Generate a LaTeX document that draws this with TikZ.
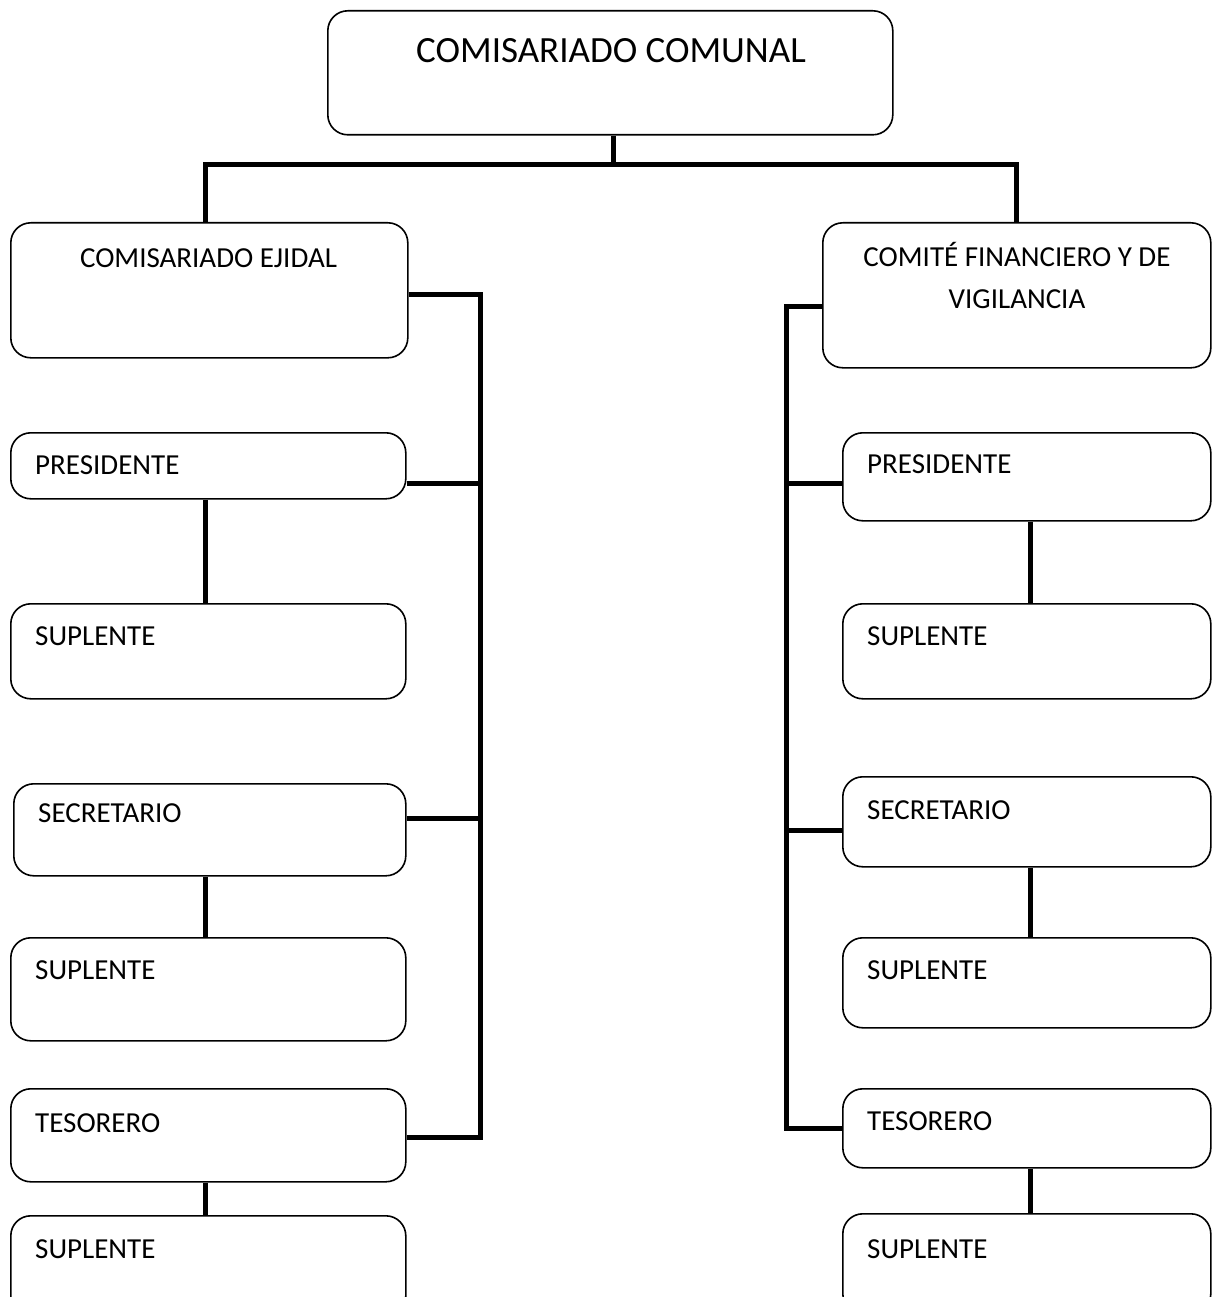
\documentclass[tikz,border=0pt]{standalone}
\usepackage{fontspec}
\setmainfont{Carlito}
\begin{document}
\begin{tikzpicture}[x=1pt,y=-1pt,
  box/.style={draw, line width=1.6pt, rounded corners=20pt, anchor=north west, inner sep=0pt},
  lbl/.style={anchor=base west, inner sep=0pt, font=\fontsize{29}{35}\selectfont},
  clbl/.style={anchor=base, inner sep=0pt, font=\fontsize{29}{35}\selectfont},
  conn/.style={line width=5pt}]
\useasboundingbox (0,0) rectangle (1211,1297);
% boxes
\node[box, minimum width=565pt, minimum height=124pt] (top) at (327,10) {};
\node[box, minimum width=397pt, minimum height=135pt] (ej) at (10,222) {};
\node[box, minimum width=388pt, minimum height=145pt] (cf) at (822,222) {};
\node[box, minimum width=395pt, minimum height=66pt] (lp) at (10,432) {};
\node[box, minimum width=395pt, minimum height=95pt] (ls1) at (10,603) {};
\node[box, minimum width=392pt, minimum height=92pt] (lse) at (13,783) {};
\node[box, minimum width=395pt, minimum height=103pt] (ls2) at (10,937) {};
\node[box, minimum width=395pt, minimum height=93pt] (lt) at (10,1088) {};
\node[box, minimum width=395pt, minimum height=100pt] (ls3) at (10,1215) {};
\node[box, minimum width=368pt, minimum height=88pt] (rp) at (842,432) {};
\node[box, minimum width=368pt, minimum height=95pt] (rs1) at (842,603) {};
\node[box, minimum width=368pt, minimum height=90pt] (rse) at (842,776) {};
\node[box, minimum width=368pt, minimum height=90pt] (rs2) at (842,937) {};
\node[box, minimum width=368pt, minimum height=79pt] (rt) at (842,1088) {};
\node[box, minimum width=368pt, minimum height=100pt] (rs3) at (842,1213) {};
% texts
\node[clbl, font=\fontsize{37}{44}\selectfont] (ttop) at (611,63) {COMISARIADO COMUNAL};
\node[clbl] (tej) at (208.5,267) {COMISARIADO EJIDAL};
\node[clbl] (tcf1) at (1017,266) {COMITÉ FINANCIERO Y DE};
\node[clbl] (tcf2) at (1017,308) {VIGILANCIA};
\node[lbl] (tlp) at (35,474) {PRESIDENTE};
\node[lbl] (tls1) at (35,645) {SUPLENTE};
\node[lbl] (tlse) at (38,822) {SECRETARIO};
\node[lbl] (tls2) at (35,979) {SUPLENTE};
\node[lbl] (tlt) at (35,1132) {TESORERO};
\node[lbl] (tls3) at (35,1258) {SUPLENTE};
\node[lbl] (trp) at (867,473) {PRESIDENTE};
\node[lbl] (trs1) at (867,645) {SUPLENTE};
\node[lbl] (trse) at (867,819) {SECRETARIO};
\node[lbl] (trs2) at (867,979) {SUPLENTE};
\node[lbl] (trt) at (867,1130) {TESORERO};
\node[lbl] (trs3) at (867,1258) {SUPLENTE};
% connector coordinates
\coordinate (hbM) at (613,165);
\coordinate (hbL) at (205.5,165);
\coordinate (hbR) at (1016.5,165);
\coordinate (lb0) at (480,294);
\coordinate (lb1) at (480,483);
\coordinate (lb2) at (480,818);
\coordinate (lb3) at (480,1137);
\coordinate (rb0) at (786,306);
\coordinate (rb1) at (786,483);
\coordinate (rb2) at (786,830);
\coordinate (rb3) at (786,1128);
\coordinate (lv) at (205,0);
\coordinate (rv) at (1030,0);
% connectors
\draw[conn] (hbM |- top.south) -- (hbM);
\draw[conn] ([xshift=-2.5pt]hbL) -- ([xshift=2.5pt]hbR);
\draw[conn] (hbL) -- (hbL |- ej.north);
\draw[conn] (hbR) -- (hbR |- cf.north);
\draw[conn] (ej.east |- lb0) -- (lb0) -- (lb3) -- (lt.east |- lb3);
\draw[conn] (lp.east |- lb1) -- (lb1);
\draw[conn] (lse.east |- lb2) -- (lb2);
\draw[conn] (cf.west |- rb0) -- (rb0) -- (rb3) -- (rt.west |- rb3);
\draw[conn] (rp.west |- rb1) -- (rb1);
\draw[conn] (rse.west |- rb2) -- (rb2);
\draw[conn] (lv |- lp.south) -- (lv |- ls1.north);
\draw[conn] (lv |- lse.south) -- (lv |- ls2.north);
\draw[conn] (lv |- lt.south) -- (lv |- ls3.north);
\draw[conn] (rv |- rp.south) -- (rv |- rs1.north);
\draw[conn] (rv |- rse.south) -- (rv |- rs2.north);
\draw[conn] (rv |- rt.south) -- (rv |- rs3.north);
\end{tikzpicture}
\end{document}
